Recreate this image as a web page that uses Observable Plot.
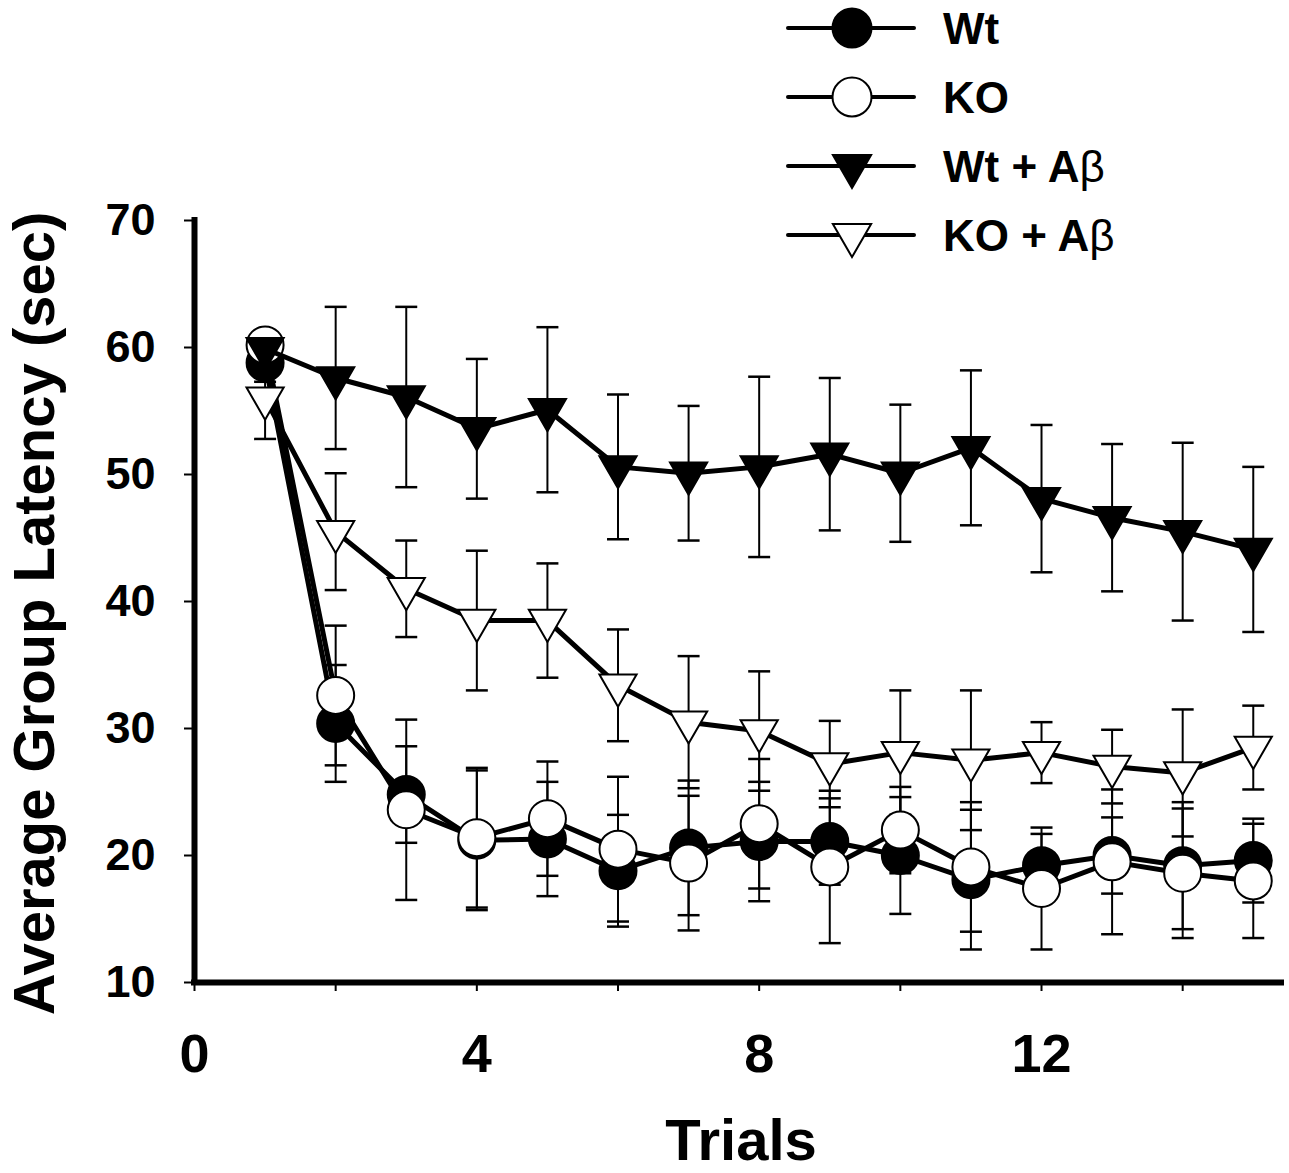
<!DOCTYPE html>
<html>
<head>
<meta charset="utf-8">
<script src="https://cdn.jsdelivr.net/npm/d3@7"></script>
<script src="https://cdn.jsdelivr.net/npm/@observablehq/plot@0.6"></script>
<style>
  body { margin: 0; background: #fff; }
  #wrap { position: relative; width: 1289px; height: 1173px; background: #fff; }
  #legend { position: absolute; left: 0; top: 0; pointer-events: none; }
</style>
</head>
<body>
<div id="wrap"></div>
<script>
// ---------- data ----------
const trials = [1, 2, 3, 4, 5, 6, 7, 8, 9, 10, 11, 12, 13, 14, 15];
const seriesNames = ["Wt", "KO", "Wt + Aβ", "KO + Aβ"];

const wtMean   = [58.8, 30.4, 24.8, 21.2, 21.3, 18.8, 20.6, 21.1, 21.1, 20.0, 18.1, 19.2, 20.0, 19.2, 19.6];
const wtErr    = [1.5, 4.6, 3.8, 5.5, 4.5, 4.4, 5.3, 4.7, 3.4, 4.6, 5.5, 2.5, 3.0, 5.0, 3.3];
const koMean   = [60.2, 32.6, 23.6, 21.4, 22.9, 20.5, 19.4, 22.5, 19.1, 22.0, 19.1, 17.4, 19.5, 18.6, 18.0];
const koErr    = [0.8, 5.5, 7.1, 5.5, 4.5, 5.7, 5.3, 5.1, 6.0, 3.4, 5.1, 4.8, 5.7, 5.1, 4.5];
const wtAbMean = [59.9, 57.6, 56.1, 53.6, 55.1, 50.6, 50.1, 50.6, 51.6, 50.1, 52.1, 48.1, 46.6, 45.5, 44.1];
const wtAbErr  = [0.8, 5.6, 7.1, 5.5, 6.5, 5.7, 5.3, 7.1, 6.0, 5.4, 6.1, 5.8, 5.8, 7.0, 6.5];
const koAbMean = [56.0, 45.5, 41.0, 38.5, 38.5, 33.4, 30.5, 29.8, 27.2, 28.1, 27.5, 28.1, 27.0, 26.5, 28.5];
const koAbErr  = [3.2, 4.6, 3.8, 5.5, 4.5, 4.4, 5.2, 4.7, 3.4, 4.9, 5.5, 2.4, 2.9, 5.0, 3.3];

const xTicks = [0, 2, 4, 6, 8, 10, 12, 14];
const xTickLabels = [0, 4, 8, 12];
const yTicks = [10, 20, 30, 40, 50, 60, 70];
const xLabel = "Trials";
const yLabel = "Average Group Latency (sec)";

// ---------- styling ----------
const means = [wtMean, koMean, wtAbMean, koAbMean];
const errs = [wtErr, koErr, wtAbErr, koAbErr];
const fills = ["black", "white", "black", "white"];
const shapes = ["circle", "circle", "triangle", "triangle"];
const FONT = "'Liberation Sans', Arial, Helvetica, sans-serif";

const triDown = {
  draw(ctx, size) {
    const y = Math.sqrt(size / (3 * Math.sqrt(3)));
    ctx.moveTo(0, 2 * y);
    ctx.lineTo(-Math.sqrt(3) * y, -y);
    ctx.lineTo(Math.sqrt(3) * y, -y);
    ctx.closePath();
  }
};
const capSym = {
  draw(ctx, size) {
    const w = Math.sqrt(size);
    ctx.moveTo(-w / 2, 0);
    ctx.lineTo(w / 2, 0);
  }
};
const symOf = k => shapes[k] === "circle" ? "circle" : triDown;
const rOf = k => shapes[k] === "circle" ? 18.5 : 13.8;

const rows = trials.flatMap((t, i) => seriesNames.map((s, k) => ({
  series: s, k, trial: t, mean: means[k][i], err: errs[k][i]
})));

const seriesMarks = seriesNames.flatMap((s, k) => {
  const d = rows.filter(r => r.k === k);
  return [
    Plot.line(d, {x: "trial", y: "mean", stroke: "black", strokeWidth: 5}),
    Plot.dot(d, {x: "trial", y: "mean", symbol: symOf(k), r: rOf(k), fill: fills[k], stroke: "black", strokeWidth: 2})
  ];
});

const chart = Plot.plot({
  width: 1289,
  height: 1173,
  marginLeft: 194,
  marginRight: 8,
  marginTop: 220,
  marginBottom: 191,
  x: {domain: [0, 15.4]},
  y: {domain: [10, 70]},
  style: {fontFamily: FONT, fontWeight: "bold", background: "white", color: "black"},
  marks: [
    // error bars
    Plot.ruleX(rows, {x: "trial", y1: d => d.mean - d.err, y2: d => d.mean + d.err, stroke: "black", strokeWidth: 2}),
    Plot.dot(rows, {x: "trial", y: d => d.mean + d.err, symbol: capSym, r: 12.4, fill: "none", stroke: "black", strokeWidth: 2.5}),
    Plot.dot(rows, {x: "trial", y: d => d.mean - d.err, symbol: capSym, r: 12.4, fill: "none", stroke: "black", strokeWidth: 2.5}),
    ...seriesMarks,
    // axis lines
    Plot.ruleX([0], {stroke: "black", strokeWidth: 6, strokeLinecap: "square"}),
    Plot.ruleY([10], {stroke: "black", strokeWidth: 6, strokeLinecap: "square"}),
    Plot.axisY(yTicks, {tickSize: 10, tickPadding: 29, fontSize: 45, strokeWidth: 2, label: null}),
    Plot.axisX(xTicks, {tickSize: 9, tickPadding: 42, fontSize: 54, strokeWidth: 2, label: null,
      tickFormat: d => xTickLabels.includes(d) ? String(d) : ""}),
    Plot.text([yLabel], {text: d => d, frameAnchor: "left", rotate: -90, lineAnchor: "top", textAnchor: "middle",
      dx: -182, dy: 12, fontSize: 58, fontWeight: "bold"}),
    Plot.text([xLabel], {text: d => d, frameAnchor: "bottom", lineAnchor: "middle",
      dy: 159, dx: 3, fontSize: 58, fontWeight: "bold"})
  ]
});
const wrap = document.getElementById("wrap");
wrap.appendChild(chart);

// ---------- legend (top right, above plot area) ----------
const leg = d3.select(wrap).append("svg")
  .attr("id", "legend")
  .attr("width", 1289).attr("height", 270)
  .style("font-family", FONT);
seriesNames.forEach((name, k) => {
  const cy = 28 + k * 69;
  const g = leg.append("g").attr("transform", `translate(0,${cy})`);
  g.append("line").attr("x1", 788).attr("x2", 914).attr("y1", 0).attr("y2", 0)
    .attr("stroke", "black").attr("stroke-width", 4).attr("stroke-linecap", "round");
  if (shapes[k] === "circle") {
    g.append("circle").attr("cx", 852).attr("cy", 0).attr("r", 19.5)
      .attr("fill", fills[k]).attr("stroke", "black").attr("stroke-width", 2);
  } else {
    g.append("path").attr("transform", "translate(852,0)")
      .attr("d", d3.symbol(triDown, Math.PI * 14.2 * 14.2)())
      .attr("fill", fills[k]).attr("stroke", "black").attr("stroke-width", 2);
  }
  const t = g.append("text").attr("x", 943).attr("y", 0).attr("dy", "0.36em")
    .attr("font-size", 44).attr("font-weight", "bold");
  const parts = name.split("β");
  t.append("tspan").text(parts[0]);
  if (parts.length > 1) t.append("tspan").attr("font-weight", "normal").text("β");
});
</script>
</body>
</html>
